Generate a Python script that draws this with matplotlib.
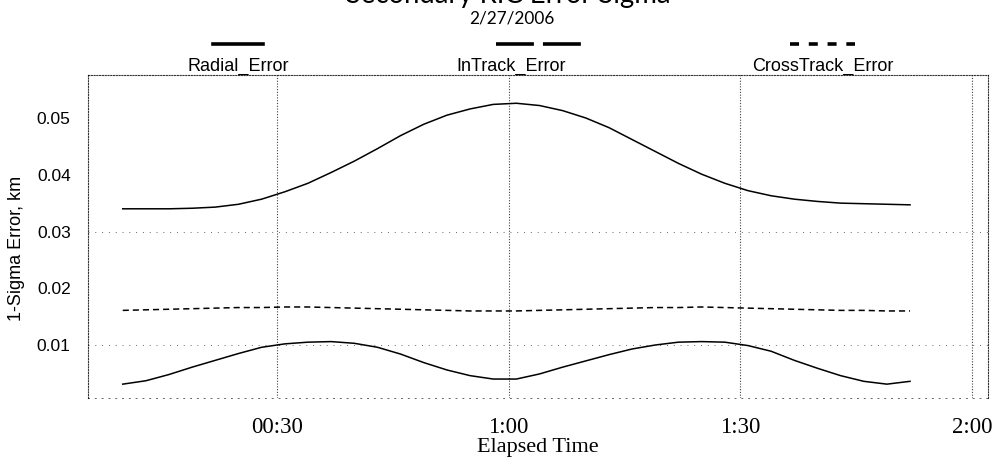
import matplotlib
matplotlib.use("Agg")
import matplotlib.pyplot as plt
from matplotlib.lines import Line2D

# ---- data (elapsed minutes, km) ----
minutes = [10, 13, 16, 19, 22, 25, 28, 31, 34, 37, 40, 43, 46, 49, 52, 55, 58,
           61, 64, 67, 70, 73, 76, 79, 82, 85, 88, 91, 94, 97, 100, 103, 106,
           109, 112]

radial_error = [0.0031, 0.0037, 0.0048, 0.0061, 0.0073, 0.0085, 0.0096, 0.0102,
                0.0105, 0.0106, 0.0103, 0.0096, 0.0084, 0.0069, 0.0056, 0.0046,
                0.0040, 0.0040, 0.0049, 0.0061, 0.0072, 0.0083, 0.0093, 0.0100,
                0.0105, 0.0106, 0.0105, 0.0099, 0.0089, 0.0073, 0.0059, 0.0046,
                0.0036, 0.0031, 0.0036]

intrack_error = [0.0340, 0.0340, 0.0340, 0.0341, 0.0343, 0.0348, 0.0357, 0.0370,
                 0.0385, 0.0404, 0.0424, 0.0446, 0.0469, 0.0489, 0.0505, 0.0516,
                 0.0524, 0.0526, 0.0522, 0.0513, 0.0500, 0.0483, 0.0462, 0.0441,
                 0.0420, 0.0401, 0.0385, 0.0372, 0.0363, 0.0357, 0.0353, 0.0350,
                 0.0349, 0.0348, 0.0347]

crosstrack_error = [0.0161, 0.0162, 0.0163, 0.0164, 0.0165, 0.0166, 0.0166, 0.0167,
                    0.0167, 0.0166, 0.0165, 0.0164, 0.0163, 0.0162, 0.0161, 0.0160,
                    0.0160, 0.0160, 0.0161, 0.0162, 0.0163, 0.0164, 0.0165, 0.0166,
                    0.0166, 0.0167, 0.0166, 0.0165, 0.0164, 0.0163, 0.0162, 0.0161,
                    0.0161, 0.0160, 0.0160]

series_names = ["Radial_Error", "InTrack_Error", "CrossTrack_Error"]
x_ticks = [30, 60, 90, 120]
x_tick_labels = ["00:30", "1:00", "1:30", "2:00"]
y_ticks = [0.01, 0.02, 0.03, 0.04, 0.05]
y_tick_labels = ["0.01", "0.02", "0.03", "0.04", "0.05"]

SANS = "Liberation Sans"
SERIF = "Liberation Serif"

fig = plt.figure(figsize=(9.95, 4.62), dpi=100)
ax = fig.add_axes([88 / 995, 1 - 398 / 462, 900 / 995, 323 / 462])

ax.plot(minutes, intrack_error, color="black", lw=1.1)
ax.plot(minutes, radial_error, color="black", lw=1.1)
ax.plot(minutes, crosstrack_error, color="black", lw=1.1, linestyle=(0, (4, 2.6)))

ax.set_xlim(5.5, 122.1)
ax.set_ylim(0.00066, 0.05758)

# dotted grid like the scanned plot
for t in x_ticks:
    ax.axvline(t, color="black", lw=0.8, linestyle=(0, (1, 1.5)), alpha=0.75)
for v in [0.01, 0.03]:
    ax.axhline(v, color="black", lw=0.7, linestyle=(0, (1, 6)), alpha=0.6)

for side in ["top", "left", "right"]:
    ax.spines[side].set_linestyle((0, (1, 1.5)))
    ax.spines[side].set_linewidth(0.8)
    ax.spines[side].set_alpha(0.8)
ax.spines["bottom"].set_linestyle((0, (1, 6)))
ax.spines["bottom"].set_linewidth(0.7)
ax.spines["bottom"].set_alpha(0.6)

ax.set_xticks(x_ticks)
ax.set_xticklabels(x_tick_labels, fontfamily=SERIF, fontsize=16.5)
ax.set_yticks(y_ticks)
ax.set_yticklabels(y_tick_labels, fontfamily=SANS, fontsize=12.5)
ax.tick_params(length=0, axis="x", pad=14)
ax.tick_params(length=0, axis="y", pad=12.5)

ax.set_xlabel("Elapsed Time", fontfamily=SERIF, fontsize=16, labelpad=0)
ax.set_ylabel("1-Sigma Error, km", fontfamily=SANS, fontsize=13)
ax.yaxis.set_label_coords(-0.070, 0.464)

# title (mostly cut off at the top in the original) and date
fig.text(0.511, 1 - 3 / 462, "Secondary RIC Error Sigma", ha="center", va="baseline",
         fontfamily="Lato", fontsize=19.8)
fig.text(0.514, 1 - 18 / 462, "2/27/2006", ha="center", va="center",
         fontfamily="Lato", fontsize=12.4)

# legend: sample line above each label
legend_x = [238 / 995, 538.5 / 995, 822.5 / 995]
legend_styles = ["-", (0, (10.5, 2.5)), (0, (2.5, 2.7))]
legend_half = [25 / 995, 42.5 / 995, 32.5 / 995]
for name, cx, ls, half in zip(series_names, legend_x, legend_styles, legend_half):
    fig.add_artist(Line2D([cx - half, cx + half], [1 - 44 / 462] * 2, color="black",
                          lw=2.6, linestyle=ls, transform=fig.transFigure))
    tx = 511 / 995 if name == "InTrack_Error" else cx
    fig.text(tx, 1 - 66 / 462, name, ha="center", va="center",
             fontfamily=SANS, fontsize=13)

fig.savefig("out.png", dpi=100)
